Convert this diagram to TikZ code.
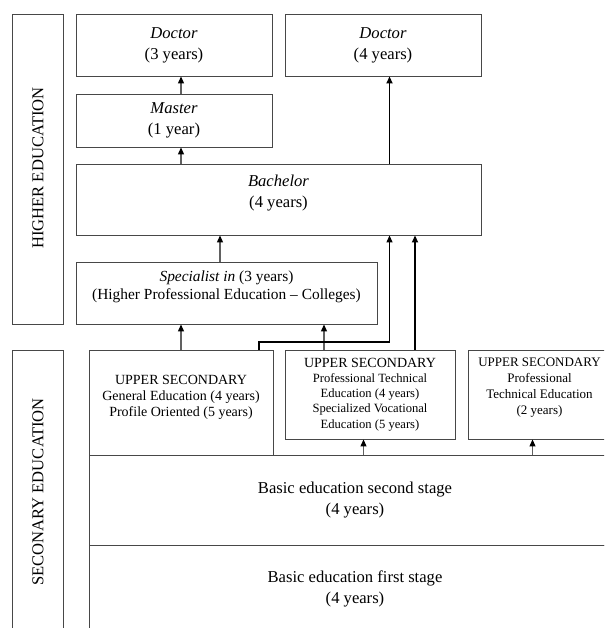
\documentclass[tikz,border=0pt]{standalone}
\usepackage{fontspec}
\setmainfont{Liberation Serif}
\usetikzlibrary{arrows.meta}
\begin{document}
\begin{tikzpicture}[x=1pt,y=-1pt,
  box/.style={draw=black!72, line width=0.9pt, rectangle, inner sep=0pt},
  big/.style={font=\fontsize{16.6}{21}\selectfont, align=center},
  mid/.style={font=\fontsize{15.4}{18}\selectfont, align=center},
  usec/.style={font=\fontsize{14}{16}\selectfont, align=center},
  usm/.style={font=\fontsize{12.6}{15.2}\selectfont, align=center},
  usn/.style={font=\fontsize{13}{16}\selectfont, align=center},
  arr/.style={draw=black!62, line width=1.2pt, -{Triangle[length=7pt,width=6pt,color=black]}},
  thickarr/.style={draw=black, line width=1.7pt, -{Triangle[length=7pt,width=6pt]}},
  jogarr/.style={draw=black, line width=1.3pt, -{Triangle[length=7pt,width=6pt]}}
]
\fill[white] (0,0) rectangle (604,628);
\clip (0,0) rectangle (604,628);

% side panels
\node[box, minimum width=51pt, minimum height=310pt] (he) at (37.5,169) {};
\node[big, rotate=90] (heT) at (38,168) {HIGHER EDUCATION};
\node[box, minimum width=51pt, minimum height=350pt] (se) at (37.5,525) {};
\node[big, rotate=90] (seT) at (38,492) {SECONARY EDUCATION};

% higher education boxes
\node[box, big, minimum width=196pt, minimum height=62pt] (doc3) at (174,45) {\textit{Doctor}\\(3 years)};
\node[box, big, minimum width=196pt, minimum height=62pt] (doc4) at (383,45) {\textit{Doctor}\\(4 years)};
\node[box, big, minimum width=196pt, minimum height=53pt] (mas) at (174,120.5) {\textit{Master}\\(1 year)};
\node[box, minimum width=405pt, minimum height=71pt] (bach) at (278.5,199.5) {};
\node[big] (bachT) at (278.5,193) {\textit{Bachelor}\\(4 years)};
\node[box, minimum width=301pt, minimum height=62pt] (spec) at (226.5,293) {};
\node[mid] (specT) at (226.5,287) {\textit{Specialist in} (3 years)\\(Higher Professional Education -- Colleges)};

% secondary boxes
\node[box, minimum width=184pt, minimum height=105pt] (ug) at (181,402.5) {};
\node[usec] (ugT) at (181,397) {UPPER SECONDARY\\General Education (4 years)\\Profile Oriented (5 years)};
\node[box, usm, minimum width=170pt, minimum height=89pt] (up) at (370,394.5) {{\fontsize{14}{15.2}\selectfont UPPER SECONDARY}\\Professional Technical\\Education (4 years)\\Specialized Vocational\\Education (5 years)};
\node[box, minimum width=144pt, minimum height=89pt] (up2) at (540,394.5) {};
\node[usn] (up2T) at (539.5,388) {UPPER SECONDARY\\Professional\\Technical Education\\(2 years)};
\node[box, big, minimum width=532pt, minimum height=90pt] (b2) at (355,500) {Basic education second stage\\(4 years)};
\node[box, minimum width=532pt, minimum height=160pt] (b1) at (355,625) {};
\node[big] (b1T) at (355,588.5) {Basic education first stage\\(4 years)};

% x positions of connectors
\coordinate (xa) at (181,0);
\coordinate (xb) at (220,0);
\coordinate (xc) at (389.5,0);
\coordinate (xd) at (415,0);
\coordinate (xe) at (324,0);
\coordinate (xg) at (363.5,0);
\coordinate (xh) at (532.5,0);
\coordinate (jog) at (259,342);

% connectors
\draw[arr] (mas.north -| xa) -- (doc3.south -| xa);
\draw[arr] (bach.north -| xa) -- (mas.south -| xa);
\draw[arr] (spec.north -| xb) -- (bach.south -| xb);
\draw[thickarr] (bach.north -| xc) -- (doc4.south -| xc);
\draw[arr] (ug.north -| xa) -- (spec.south -| xa);
\draw[arr] (up.north -| xe) -- (spec.south -| xe);
\draw[jogarr] (ug.north -| jog) -- (jog) -| (bach.south -| xc);
\draw[thickarr] (up.north -| xd) -- (bach.south -| xd);
\draw[arr] (b2.north -| xg) -- (up.south -| xg);
\draw[arr] (b2.north -| xh) -- (up2.south -| xh);
\end{tikzpicture}
\end{document}
